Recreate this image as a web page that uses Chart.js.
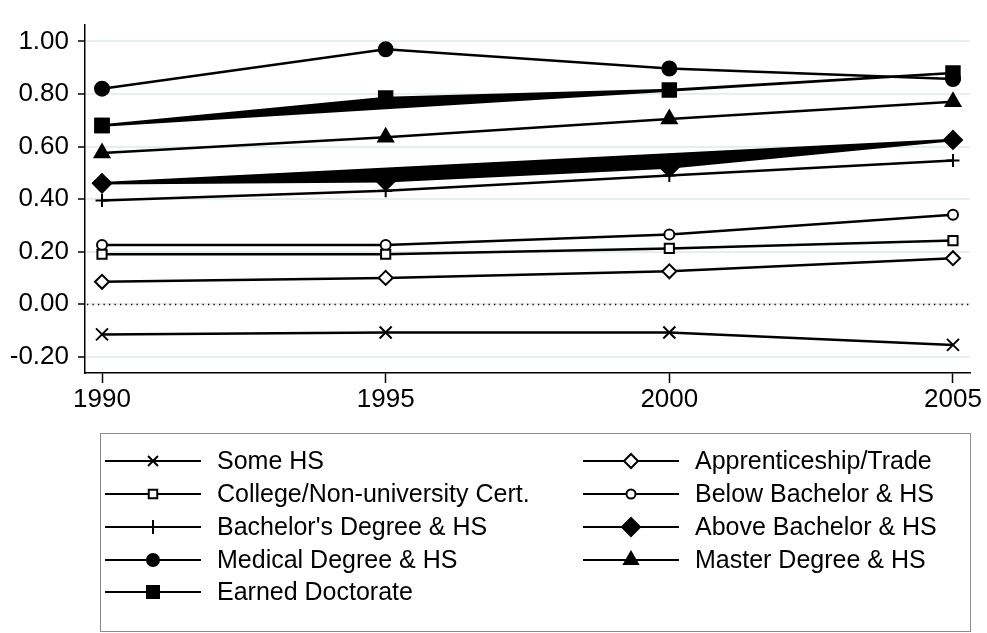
<!DOCTYPE html>
<html>
<head>
<meta charset="utf-8">
<script src="https://cdn.jsdelivr.net/npm/chart.js@4"></script>
<style>
  html, body { margin: 0; padding: 0; background: #ffffff; }
  #wrap { width: 987px; height: 633px; }
</style>
</head>
<body>
<div id="wrap"><canvas id="chart" width="987" height="633"></canvas></div>
<script>
// Données (écart relatif au diplôme secondaire)
const years = [1990, 1995, 2000, 2005];
const someHS = [-0.115, -0.108, -0.108, -0.155];
const apprenticeship = [0.085, 0.100, 0.125, 0.175];
const college = [0.190, 0.190, 0.212, 0.242];
const belowBachelor = [0.225, 0.225, 0.265, 0.340];
const bachelor = [0.395, 0.432, 0.490, 0.547];
const aboveBachelor = [0.460, 0.468, 0.520, 0.625];
const medical = [0.820, 0.970, 0.897, 0.857];
const master = [0.575, 0.635, 0.705, 0.770];
const doctorate = [0.680, 0.785, 0.815, 0.880];

const yTicks = [-0.2, 0, 0.2, 0.4, 0.6, 0.8, 1.0];
const xTicks = [1990, 1995, 2000, 2005];

const FONT = '"Liberation Sans", Arial, Helvetica, sans-serif';
const GRID = '#e6eef1';

// Séries dans l'ordre de la légende (2 colonnes, lecture par ligne)
const series = [
    { label: 'Some HS', values: someHS, style: 'crossRot', r: 8.5, legR: 7, filled: false },
    { label: 'Apprenticeship/Trade', values: apprenticeship, style: 'rectRot', r: 7, legR: 7, filled: false },
    { label: 'College/Non-university Cert.', values: college, style: 'rect', r: 6.5, legR: 6, filled: false },
    { label: 'Below Bachelor & HS', values: belowBachelor, style: 'circle', r: 5, legR: 4.5, filled: false },
    { label: "Bachelor's Degree & HS", values: bachelor, style: 'cross', r: 6.5, legR: 7, filled: false },
    { label: 'Above Bachelor & HS', values: aboveBachelor, style: 'rectRot', r: 9, legR: 9, filled: true, wedge: true },
    { label: 'Medical Degree & HS', values: medical, style: 'circle', r: 7, legR: 6, filled: true },
    { label: 'Master Degree & HS', values: master, style: 'triangle', r: 8.5, legR: 8, filled: true },
    { label: 'Earned Doctorate', values: doctorate, style: 'rect', r: 9.5, legR: 8.5, filled: true, wedge: true }
];

function toPoints(s) {
    const pts = years.map((y, i) => ({ x: y, y: s.values[i] }));
    // Les deux séries en "coin" noir : on referme le polygone sur le premier point
    if (s.wedge) pts.push({ x: years[0], y: s.values[0] });
    return pts;
}

const datasets = series.map(s => ({
    label: s.label,
    data: toPoints(s),
    borderColor: '#000000',
    backgroundColor: '#000000',
    borderWidth: 2.5,
    pointStyle: s.style,
    pointRadius: s.r,
    pointBorderWidth: 2,
    pointBorderColor: '#000000',
    pointBackgroundColor: s.filled ? '#000000' : '#ffffff',
    fill: s.wedge ? 'shape' : false,
    tension: 0
}));

// Ligne pointillée sur zéro
const zeroLine = {
    id: 'zeroLine',
    beforeDatasetsDraw(chart) {
        const { ctx, chartArea, scales } = chart;
        const y = Math.round(scales.y.getPixelForValue(0)) + 0.5;
        ctx.save();
        ctx.strokeStyle = '#000000';
        ctx.lineWidth = 1.3;
        ctx.setLineDash([1.3, 4.2]);
        ctx.beginPath();
        ctx.moveTo(chartArea.left + 2, y);
        ctx.lineTo(chartArea.right, y);
        ctx.stroke();
        ctx.restore();
    }
};

// Légende encadrée façon Stata
const boxLegend = {
    id: 'boxLegend',
    afterDraw(chart) {
        const ctx = chart.ctx;
        const box = { left: 100.5, top: 433.5, right: 970.5, bottom: 631.5 };
        ctx.save();
        ctx.strokeStyle = '#8c8c8c';
        ctx.lineWidth = 1;
        ctx.strokeRect(box.left, box.top, box.right - box.left, box.bottom - box.top);

        const colX = [105, 583];
        const rowY = [461, 494, 527, 560, 592];
        ctx.font = '25px ' + FONT;
        ctx.textBaseline = 'middle';
        ctx.fillStyle = '#000000';
        series.forEach((s, i) => {
            const x0 = colX[i % 2];
            const y = rowY[Math.floor(i / 2)];
            ctx.strokeStyle = '#000000';
            ctx.lineWidth = 2;
            ctx.beginPath();
            ctx.moveTo(x0, y);
            ctx.lineTo(x0 + 96, y);
            ctx.stroke();
            ctx.fillStyle = s.filled ? '#000000' : '#ffffff';
            ctx.strokeStyle = '#000000';
            ctx.lineWidth = 2;
            Chart.helpers.drawPoint(ctx, { pointStyle: s.style, radius: s.legR, borderWidth: 2, rotation: 0 }, x0 + 48, y);
            ctx.fillStyle = '#000000';
            ctx.fillText(s.label, x0 + 112, y + 1);
        });
        ctx.restore();
    }
};

const ctx = document.getElementById('chart').getContext('2d');
const chart = new Chart(ctx, {
    type: 'line',
    data: { datasets: datasets },
    options: {
        responsive: false,
        devicePixelRatio: 1,
        animation: false,
        layout: { padding: { left: 0, right: 17, top: 5, bottom: 210 } },
        plugins: {
            legend: { display: false },
            tooltip: { enabled: false }
        },
        scales: {
            x: {
                type: 'linear',
                min: 1989.7,
                max: 2005.3,
                afterBuildTicks: scale => { scale.ticks = xTicks.map(v => ({ value: v })); },
                afterFit: scale => { scale.height = 50; },
                grid: { drawOnChartArea: false, drawTicks: true, tickLength: 10, tickColor: '#000000', tickWidth: 1.5 },
                border: { display: true, color: '#000000', width: 1.5 },
                ticks: {
                    color: '#000000',
                    font: { family: FONT, size: 26 },
                    padding: 1,
                    maxRotation: 0,
                    callback: v => String(v)
                }
            },
            y: {
                type: 'linear',
                min: -0.262,
                max: 1.064,
                afterBuildTicks: scale => { scale.ticks = yTicks.map(v => ({ value: v })); },
                afterFit: scale => { scale.width = 85; },
                grid: {
                    color: GRID,
                    lineWidth: 2,
                    drawTicks: true,
                    tickLength: 7,
                    tickColor: '#000000',
                    tickWidth: 1.5
                },
                border: { display: true, color: '#000000', width: 1.5 },
                ticks: {
                    color: '#000000',
                    font: { family: FONT, size: 26 },
                    padding: 9,
                    callback: v => Number(v).toFixed(2)
                }
            }
        }
    },
    plugins: [zeroLine, boxLegend]
});
</script>
</body>
</html>
